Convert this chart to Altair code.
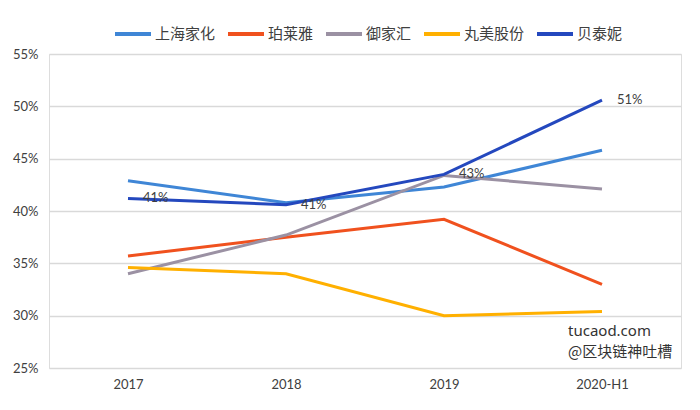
import altair as alt
import pandas as pd

years = ["2017", "2018", "2019", "2020-H1"]
series = ["上海家化", "珀莱雅", "御家汇", "丸美股份", "贝泰妮"]
colors = ["#3F86D6", "#F0511E", "#9B91A3", "#FFB000", "#2448BE"]
shjh = [0.429, 0.408, 0.423, 0.458]
ply = [0.357, 0.375, 0.392, 0.330]
yjh = [0.340, 0.377, 0.434, 0.421]
wm = [0.346, 0.340, 0.300, 0.304]
btn = [0.412, 0.406, 0.435, 0.506]
label_text = ["41%", "41%", "43%", "51%"]

values = [shjh, ply, yjh, wm, btn]
rows = []
for s, vals in zip(series, values):
    for y, v in zip(years, vals):
        rows.append({"year": y, "series": s, "value": v})
df = pd.DataFrame(rows)
lab = pd.DataFrame({"year": years, "value": btn, "label": label_text})

x = alt.X("year:O", sort=years, title=None,
          axis=alt.Axis(labelAngle=0, ticks=False, domain=False, labelPadding=10,
                        labelFontSize=13, labelColor="#404040", labelFont="Lato"))
y = alt.Y("value:Q", title=None,
          scale=alt.Scale(domain=[0.25, 0.55], nice=False, zero=False),
          axis=alt.Axis(format=".0%", values=[0.25, 0.30, 0.35, 0.40, 0.45, 0.50, 0.55],
                        ticks=False, domain=False, labelPadding=11, labelFontSize=13,
                        labelColor="#404040", labelFont="Lato",
                        gridColor="#D9D9D9", gridWidth=1.5))

lines = alt.Chart(df).mark_line(strokeWidth=3).encode(
    x=x, y=y,
    color=alt.Color("series:N", sort=series,
                    scale=alt.Scale(domain=series, range=colors),
                    legend=alt.Legend(title=None, orient="none", direction="horizontal",
                                      legendX=64, legendY=-40, symbolType="stroke",
                                      symbolSize=1296, symbolStrokeWidth=4,
                                      labelFontSize=15, labelFont="Noto Sans CJK SC",
                                      labelColor="#404040", labelOffset=2,
                                      columnPadding=4)),
)

labels = alt.Chart(lab).mark_text(align="left", baseline="middle", dx=15, fontSize=13,
                                   font="Lato", color="#404040").encode(
    x=alt.X("year:O", sort=years), y="value:Q", text="label:N")

wm1 = alt.Chart(pd.DataFrame({"t": ["tucaod.com"]})).mark_text(
    align="left", baseline="middle", fontSize=15, font="Noto Sans", color="#333333"
).encode(x=alt.value(519), y=alt.value(277), text="t:N")
wm2 = alt.Chart(pd.DataFrame({"t": ["@区块链神吐槽"]})).mark_text(
    align="left", baseline="middle", fontSize=15, font="Noto Sans CJK SC", color="#333333"
).encode(x=alt.value(519), y=alt.value(298), text="t:N")

chart = alt.layer(lines, labels, wm1, wm2).properties(
    width=632, height=314,
    autosize=alt.AutoSizeParams(type="none"),
    padding={"left": 41, "top": 46, "right": 11, "bottom": 30},
).configure_view(stroke=None).configure(background="white")

chart.save("out.html", embed_options={"renderer": "svg", "actions": False})
